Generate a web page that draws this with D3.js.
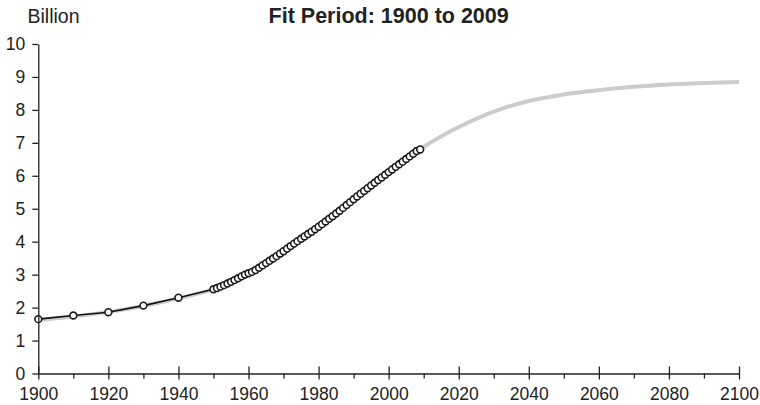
<!doctype html>
<html lang="en">
  <head>
    <meta charset="UTF-8" />
    <title>Fit Period: 1900 to 2009</title>
    <script src="https://d3js.org/d3.v7.min.js"></script>
    <style>
      body {
        margin: 0;
        background: #fff;
        font-family: 'Liberation Sans', Arial, sans-serif;
      }
      .axis text {
        font-size: 17.5px;
        fill: #222;
        font-family: 'Liberation Sans', Arial, sans-serif;
      }
      .axis path,
      .axis line {
        stroke: #222;
        stroke-width: 1.3;
      }
      .title {
        font-size: 21.5px;
        font-weight: bold;
        fill: #222;
      }
      .unit {
        font-size: 19.5px;
        fill: #222;
      }
    </style>
  </head>
  <body>
    <svg id="chart"></svg>
    <script>
      const W = 760
      const H = 405

      // observed years and population (billion)
      const obsYears = [1900, 1910, 1920, 1930, 1940].concat(d3.range(1950, 2010))
      const obsValues = [
        1.65, 1.76, 1.86, 2.06, 2.30,
        2.557, 2.594, 2.636, 2.682, 2.730, 2.782, 2.835, 2.891, 2.948, 3.001,
        3.043, 3.084, 3.140, 3.210, 3.281, 3.350, 3.421, 3.490, 3.562, 3.637,
        3.713, 3.790, 3.867, 3.942, 4.017, 4.089, 4.160, 4.232, 4.304, 4.379,
        4.455, 4.533, 4.613, 4.694, 4.774, 4.856, 4.940, 5.026, 5.113, 5.201,
        5.289, 5.374, 5.458, 5.541, 5.624, 5.707, 5.789, 5.871, 5.951, 6.032,
        6.112, 6.192, 6.272, 6.351, 6.430, 6.510, 6.589, 6.670, 6.751, 6.800,
      ]

      // fitted curve, read every 10 years
      const fitYears = d3.range(1900, 2101, 10)
      const fitValues = [
        1.62, 1.73, 1.87, 2.05, 2.28, 2.56, 3.0, 3.64, 4.44, 5.3, 6.12,
        6.88, 7.48, 7.95, 8.27, 8.47, 8.6, 8.7, 8.77, 8.82, 8.85,
      ]

      const xMajor = d3.range(1900, 2101, 20)
      const xMinor = d3.range(1910, 2100, 20)
      const yTicks = d3.range(0, 11, 1)

      const x = d3.scaleLinear().domain([1900, 2100]).range([38.3, 739])
      const y = d3.scaleLinear().domain([0, 10]).range([373.5, 44])

      const svg = d3.select('#chart').attr('width', W).attr('height', H)

      // fit curve
      const fitData = fitYears.map((yr, i) => ({ yr, v: fitValues[i] }))
      svg
        .append('path')
        .datum(fitData)
        .attr('fill', 'none')
        .attr('stroke', '#cccccc')
        .attr('stroke-width', 4)
        .attr(
          'd',
          d3
            .line()
            .x((d) => x(d.yr))
            .y((d) => y(d.v))
            .curve(d3.curveMonotoneX)
        )

      // observed
      const obsData = obsYears.map((yr, i) => ({ yr, v: obsValues[i] }))
      svg
        .append('path')
        .datum(obsData)
        .attr('fill', 'none')
        .attr('stroke', '#111')
        .attr('stroke-width', 1.6)
        .attr(
          'd',
          d3
            .line()
            .x((d) => x(d.yr))
            .y((d) => y(d.v))
        )

      svg
        .selectAll('.pt')
        .data(obsData)
        .enter()
        .append('circle')
        .attr('class', 'pt')
        .attr('cx', (d) => x(d.yr))
        .attr('cy', (d) => y(d.v))
        .attr('r', 3.4)
        .attr('fill', '#fff')
        .attr('stroke', '#1a1a1a')
        .attr('stroke-width', 1.6)

      // x axis: minor ticks
      svg
        .append('g')
        .attr('class', 'axis')
        .attr('transform', `translate(0,${y(0)})`)
        .call(d3.axisBottom(x).tickValues(xMinor).tickSize(5).tickFormat(''))
        .call((g) => g.select('.domain').remove())

      // x axis: major ticks crossing the line
      const xAxis = svg
        .append('g')
        .attr('class', 'axis')
        .attr('transform', `translate(0,${y(0)})`)
        .call(d3.axisBottom(x).tickValues(xMajor).tickSize(6).tickSizeOuter(0).tickFormat(d3.format('d')))
      xAxis.selectAll('.tick line').attr('y1', -7)
      xAxis.selectAll('.tick text').attr('y', 11).attr('dy', '0.9em')

      // y axis
      const yAxis = svg
        .append('g')
        .attr('class', 'axis')
        .attr('transform', `translate(${x(1900)},0)`)
        .call(d3.axisLeft(y).tickValues(yTicks).tickSize(6).tickSizeOuter(0))
      yAxis.selectAll('.tick text').attr('x', -13)

      svg
        .append('text')
        .attr('class', 'unit')
        .attr('x', 27.5)
        .attr('y', 22.5)
        .text('Billion')

      svg
        .append('text')
        .attr('class', 'title')
        .attr('x', (x(1900) + x(2100)) / 2)
        .attr('y', 22.5)
        .attr('text-anchor', 'middle')
        .text('Fit Period: 1900 to 2009')
    </script>
  </body>
</html>
